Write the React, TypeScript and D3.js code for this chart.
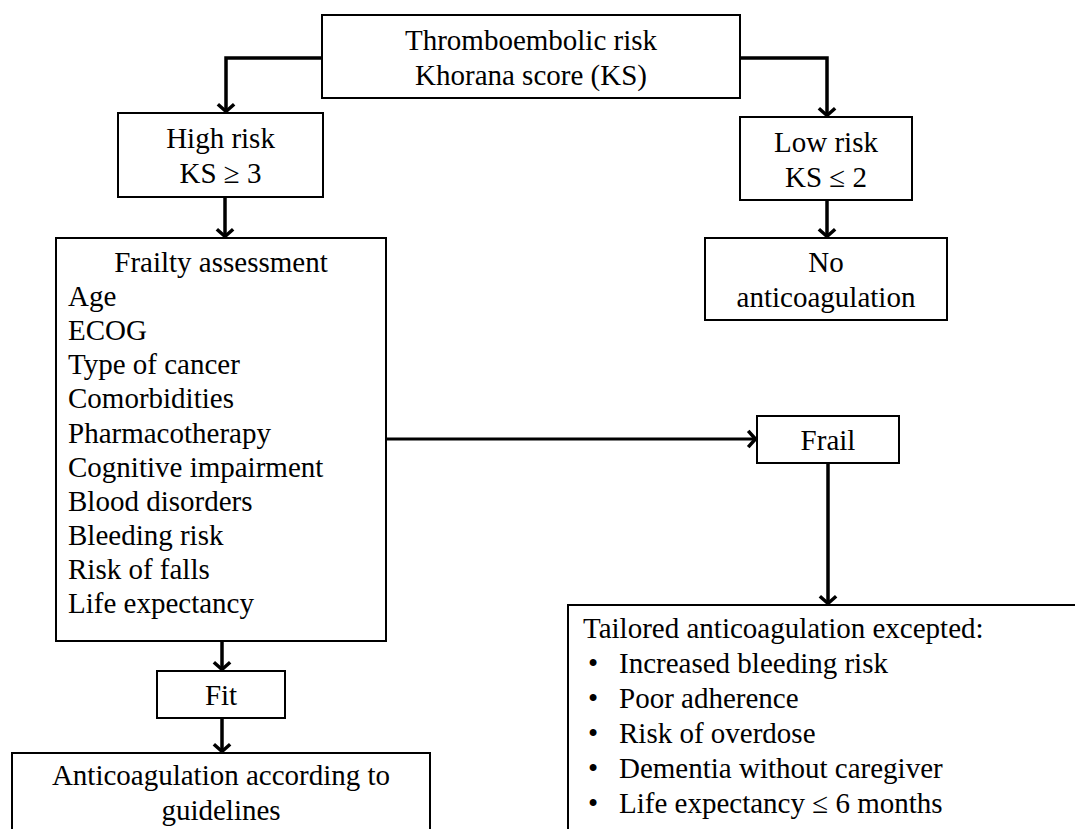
import React from "react";
import * as d3 from "d3";

// ---- Text content ----
const topLines = ["Thromboembolic risk", "Khorana score (KS)"];
const highLines = ["High risk", "KS \u2265 3"];
const lowLines = ["Low risk", "KS \u2264 2"];
const noLines = ["No", "anticoagulation"];
const frailtyTitle = "Frailty assessment";
const frailtyItems = [
  "Age",
  "ECOG",
  "Type of cancer",
  "Comorbidities",
  "Pharmacotherapy",
  "Cognitive impairment",
  "Blood disorders",
  "Bleeding risk",
  "Risk of falls",
  "Life expectancy",
];
const frailLines = ["Frail"];
const fitLines = ["Fit"];
const guidelineLines = ["Anticoagulation according to", "guidelines"];
const tailoredTitle = "Tailored anticoagulation excepted:";
const tailoredItems = [
  "Increased bleeding risk",
  "Poor adherence",
  "Risk of overdose",
  "Dementia without caregiver",
  "Life expectancy \u2264 6 months",
];

// ---- Layout (positions kept separate from content) ----
const W = 1075;
const H = 829;
const FONT = '"Liberation Serif", Tinos, "Times New Roman", Times, "DejaVu Serif", serif';
const FS = 29;
const LH = 35;

type Box = { x0: number; y0: number; x1: number; y1: number; first: number };
const boxes: Record<string, Box> = {
  top: { x0: 322, y0: 15, x1: 740, y1: 98, first: 50 },
  high: { x0: 118, y0: 113, x1: 323, y1: 197, first: 148 },
  low: { x0: 740, y0: 117, x1: 912, y1: 200, first: 152 },
  no: { x0: 705, y0: 238, x1: 947, y1: 320, first: 272 },
  frailty: { x0: 56, y0: 238, x1: 386, y1: 641, first: 272 },
  frail: { x0: 757, y0: 416, x1: 899, y1: 463, first: 450 },
  fit: { x0: 157, y0: 671, x1: 285, y1: 718, first: 705 },
  guide: { x0: 12, y0: 753, x1: 430, y1: 900, first: 785 },
  tailored: { x0: 568, y0: 605, x1: 1100, y1: 900, first: 638 },
};

type Conn = { pts: [number, number][]; w: number };
const connectors: Conn[] = [
  { pts: [[322, 58], [226, 58], [226, 113]], w: 3.5 },
  { pts: [[740, 58], [827, 58], [827, 117]], w: 3.5 },
  { pts: [[225, 197], [225, 238]], w: 3.5 },
  { pts: [[827, 200], [827, 238]], w: 3.5 },
  { pts: [[386, 439], [757, 439]], w: 3 },
  { pts: [[828, 463], [828, 605]], w: 3.5 },
  { pts: [[222, 641], [222, 671]], w: 3.5 },
  { pts: [[222, 718], [222, 753]], w: 3.5 },
];

const line = d3.line<[number, number]>();

function arrowHead(pts: [number, number][]) {
  const [ex, ey] = pts[pts.length - 1];
  const [px, py] = pts[pts.length - 2];
  const ang = Math.atan2(ey - py, ex - px);
  const len = 12;
  const spread = Math.PI / 4.2;
  const a1: [number, number] = [ex - len * Math.cos(ang - spread), ey - len * Math.sin(ang - spread)];
  const a2: [number, number] = [ex - len * Math.cos(ang + spread), ey - len * Math.sin(ang + spread)];
  const tip: [number, number] = [ex - 1.5 * Math.cos(ang), ey - 1.5 * Math.sin(ang)];
  return line([a1, tip, a2]) || "";
}

const textStyle: React.CSSProperties = { fontFamily: FONT, fontSize: FS };

function CenteredBox({ b, lines }: { b: Box; lines: string[] }) {
  const cx = (b.x0 + b.x1) / 2;
  return (
    <g>
      <rect x={b.x0} y={b.y0} width={b.x1 - b.x0} height={b.y1 - b.y0} fill="#fff" stroke="#000" strokeWidth={2} />
      {lines.map((t, i) => (
        <text key={i} x={cx} y={b.first + i * LH} textAnchor="middle" style={textStyle} fill="#000">
          {t}
        </text>
      ))}
    </g>
  );
}

export default function App() {
  const fb = boxes.frailty;
  const tb = boxes.tailored;
  const frailtyStep = 34.1;
  return (
    <svg width={W} height={H} style={{ position: "absolute", left: 0, top: 0, background: "#fff", fontFamily: FONT }}>
      <rect x={0} y={0} width={W} height={H} fill="#fff" />
      {connectors.map((c, i) => (
        <g key={i}>
          <path d={line(c.pts) || ""} fill="none" stroke="#000" strokeWidth={c.w} />
          <path d={arrowHead(c.pts)} fill="none" stroke="#000" strokeWidth={3.5} strokeLinejoin="miter" />
        </g>
      ))}
      <CenteredBox b={boxes.top} lines={topLines} />
      <CenteredBox b={boxes.high} lines={highLines} />
      <CenteredBox b={boxes.low} lines={lowLines} />
      <CenteredBox b={boxes.no} lines={noLines} />
      <CenteredBox b={boxes.frail} lines={frailLines} />
      <CenteredBox b={boxes.fit} lines={fitLines} />
      <CenteredBox b={boxes.guide} lines={guidelineLines} />

      {/* Frailty assessment box */}
      <rect x={fb.x0} y={fb.y0} width={fb.x1 - fb.x0} height={fb.y1 - fb.y0} fill="#fff" stroke="#000" strokeWidth={2} />
      <text x={(fb.x0 + fb.x1) / 2} y={fb.first} textAnchor="middle" style={textStyle}>
        {frailtyTitle}
      </text>
      {frailtyItems.map((t, i) => (
        <text key={t} x={fb.x0 + 12} y={fb.first + (i + 1) * frailtyStep} style={textStyle}>
          {t}
        </text>
      ))}

      {/* Tailored box */}
      <rect x={tb.x0} y={tb.y0} width={tb.x1 - tb.x0} height={tb.y1 - tb.y0} fill="#fff" stroke="#000" strokeWidth={2} />
      <text x={tb.x0 + 15} y={tb.first} style={textStyle}>
        {tailoredTitle}
      </text>
      {tailoredItems.map((t, i) => (
        <g key={t}>
          <text x={tb.x0 + 20} y={tb.first + (i + 1) * LH} style={textStyle}>
            {"\u2022"}
          </text>
          <text x={tb.x0 + 51} y={tb.first + (i + 1) * LH} style={textStyle}>
            {t}
          </text>
        </g>
      ))}
    </svg>
  );
}
